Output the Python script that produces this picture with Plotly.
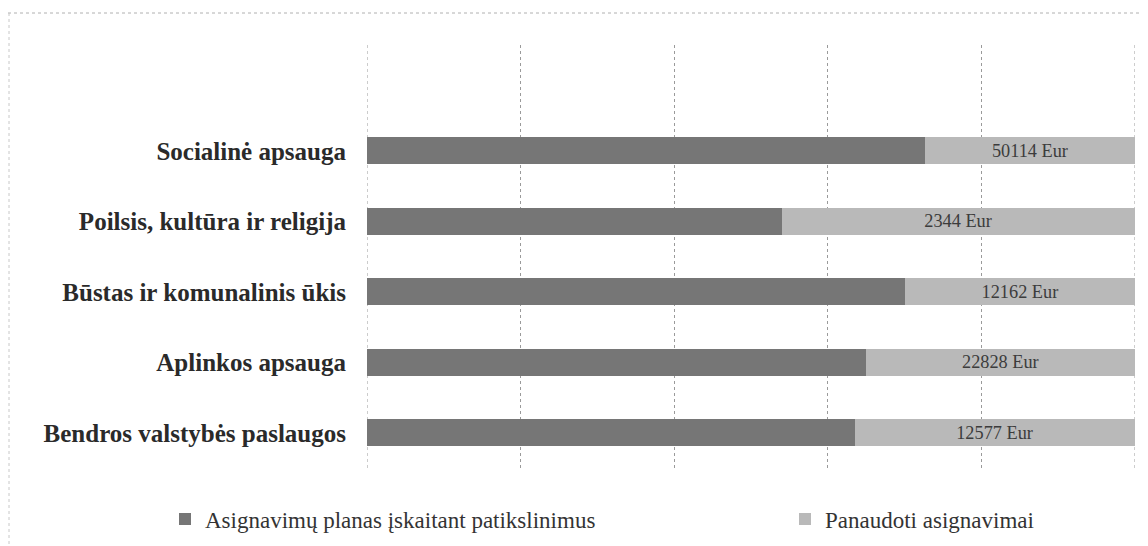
import plotly.graph_objects as go

categories = ["Bendros valstybės paslaugos", "Aplinkos apsauga",
              "Būstas ir komunalinis ūkis", "Poilsis, kultūra ir religija",
              "Socialinė apsauga"]
plan_share = [63.5, 65.0, 70.1, 54.0, 72.7]
used_share = [36.5, 35.0, 29.9, 46.0, 27.3]
used_labels = ["12577 Eur", "22828 Eur", "12162 Eur", "2344 Eur", "50114 Eur"]
series_names = ["Asignavimų planas įskaitant patikslinimus", "Panaudoti asignavimai"]
grid_edges = [0, 100]

FONT = "Liberation Serif"

# page has an 8px default body margin: figure is sized/offset to compensate
W, H = 1140, 538
L, R, T, B = 359, 13, 37, 78
PW, PH = W - L - R, H - T - B

fig = go.Figure()
fig.add_trace(go.Bar(
    y=categories, x=plan_share, orientation="h", name=series_names[0],
    marker=dict(color="#767676", line=dict(width=0)),
    width=0.38, hoverinfo="skip", legend="legend",
))
fig.add_trace(go.Bar(
    y=categories, x=used_share, orientation="h", name=series_names[1],
    marker=dict(color="#b9b9b9", line=dict(width=0)),
    width=0.38, text=used_labels, textposition="inside",
    insidetextanchor="middle",
    textfont=dict(family=FONT, size=22, color="#3c3c3c"),
    hoverinfo="skip", legend="legend2",
))

legend_common = dict(orientation="h", xanchor="left", y=-51 / PH, yanchor="middle",
                     font=dict(family=FONT, size=23, color="#333"),
                     itemwidth=30, bgcolor="rgba(0,0,0,0)")

fig.update_layout(
    barmode="stack",
    width=W, height=H,
    margin=dict(l=L, r=R, t=T, b=B, autoexpand=False),
    paper_bgcolor="white", plot_bgcolor="white",
    font=dict(family=FONT, color="#222"),
    showlegend=True,
    legend=dict(x=(157 - L) / PW, **legend_common),
    legend2=dict(x=(777 - L) / PW, **legend_common),
    xaxis=dict(range=[0, 100], dtick=20, showticklabels=False,
               showgrid=True, gridcolor="#9a9a9a", griddash="dot", gridwidth=1,
               zeroline=False, showline=False, fixedrange=True),
    yaxis=dict(range=[-0.5, 5.5], showgrid=False, zeroline=False,
               showline=False, ticks="", ticklabelstandoff=20,
               tickfont=dict(family=FONT, size=25, color="#2a2a2a", weight="bold"),
               categoryorder="array", categoryarray=categories),
)

# gridlines at the range edges (plotly omits them)
for gx in grid_edges:
    fig.add_shape(type="line", xref="x", yref="paper", x0=gx, x1=gx, y0=0, y1=1,
                  line=dict(color="#9a9a9a", width=1, dash="dot"), layer="below")

# faint dotted frame of the scanned page (top and left edges)
fig.add_shape(type="line", xref="paper", yref="paper", x0=-L / PW, x1=1 + R / PW,
              y0=1 + 32 / PH, y1=1 + 32 / PH,
              line=dict(color="#b0b0b0", width=1, dash="dot"))
fig.add_shape(type="line", xref="paper", yref="paper", x0=-(L - 1) / PW, x1=-(L - 1) / PW,
              y0=1 + 32 / PH, y1=-B / PH,
              line=dict(color="#c8c8c8", width=1, dash="dot"))

fig.write_html("out.html")
